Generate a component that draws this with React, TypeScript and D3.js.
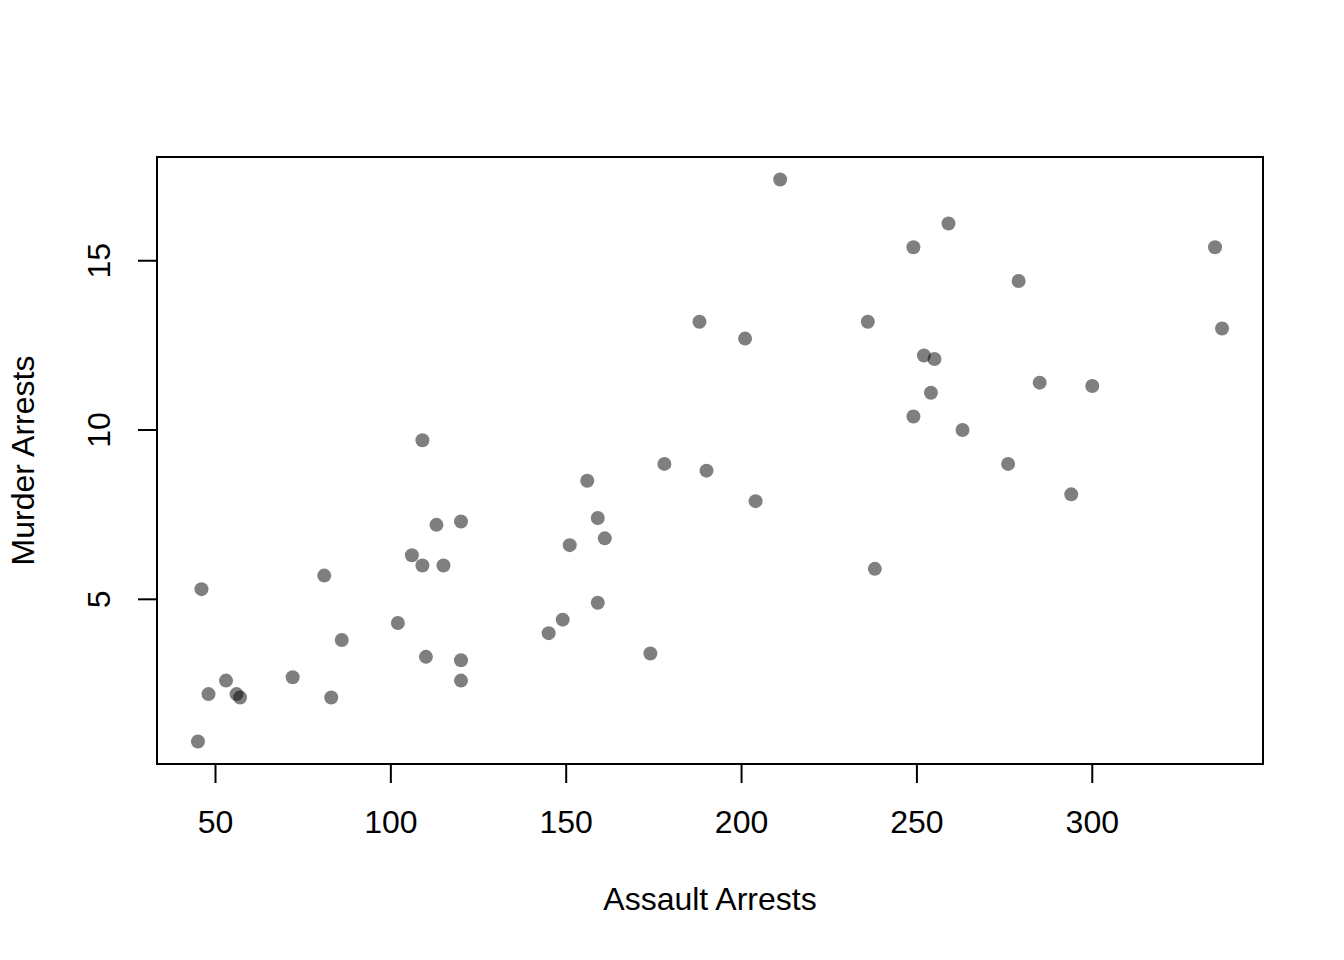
import React from "react";
import * as d3 from "d3";

const assault = [236, 263, 294, 190, 276, 204, 110, 238, 335, 211, 46, 120, 249, 113, 56, 115, 109, 249, 83, 300, 149, 255, 72, 259, 178, 109, 102, 252, 57, 159, 285, 254, 337, 45, 120, 151, 159, 106, 174, 279, 86, 188, 201, 120, 48, 156, 145, 81, 53, 161];
const murder = [13.2, 10.0, 8.1, 8.8, 9.0, 7.9, 3.3, 5.9, 15.4, 17.4, 5.3, 2.6, 10.4, 7.2, 2.2, 6.0, 9.7, 15.4, 2.1, 11.3, 4.4, 12.1, 2.7, 16.1, 9.0, 6.0, 4.3, 12.2, 2.1, 7.4, 11.4, 11.1, 13.0, 0.8, 7.3, 6.6, 4.9, 6.3, 3.4, 14.4, 3.8, 13.2, 12.7, 3.2, 2.2, 8.5, 4.0, 5.7, 2.6, 6.8];
const xTicks = [50, 100, 150, 200, 250, 300];
const yTicks = [5, 10, 15];

const W = 1344, H = 960;
const L = 157, R = 1263, T = 157, B = 764;

export default function App() {
  const xmin = d3.min(assault)!, xmax = d3.max(assault)!;
  const ymin = d3.min(murder)!, ymax = d3.max(murder)!;
  const xe = (xmax - xmin) * 0.04, ye = (ymax - ymin) * 0.04;
  const x = d3.scaleLinear().domain([xmin - xe, xmax + xe]).range([L, R]);
  const y = d3.scaleLinear().domain([ymin - ye, ymax + ye]).range([B, T]);
  const font = "'Liberation Sans', Arial, Helvetica, sans-serif";
  return (
    <svg width={W} height={H} style={{ position: "absolute", left: 0, top: 0, background: "#fff" }} fontFamily={font}>
      <rect x={0} y={0} width={W} height={H} fill="#fff" />
      {assault.map((a, i) => (
        <circle key={i} cx={x(a)} cy={y(murder[i])} r={7} fill="rgba(0,0,0,0.5)" />
      ))}
      <rect x={L} y={T} width={R - L} height={B - T} fill="none" stroke="#000" strokeWidth={2} />
      {xTicks.map((t) => (
        <g key={t}>
          <line x1={x(t)} x2={x(t)} y1={B} y2={B + 19} stroke="#000" strokeWidth={2} />
          <text x={x(t)} y={833} fontSize={32} textAnchor="middle" fill="#000">{t}</text>
        </g>
      ))}
      {yTicks.map((t) => (
        <g key={t}>
          <line x1={L} x2={L - 19} y1={y(t)} y2={y(t)} stroke="#000" strokeWidth={2} />
          <text transform={`translate(110,${y(t)}) rotate(-90)`} fontSize={32} textAnchor="middle" fill="#000">{t}</text>
        </g>
      ))}
      <text x={(L + R) / 2} y={910} fontSize={32} textAnchor="middle" fill="#000">Assault Arrests</text>
      <text transform={`translate(34,${(T + B) / 2}) rotate(-90)`} fontSize={32} textAnchor="middle" fill="#000">Murder Arrests</text>
    </svg>
  );
}
